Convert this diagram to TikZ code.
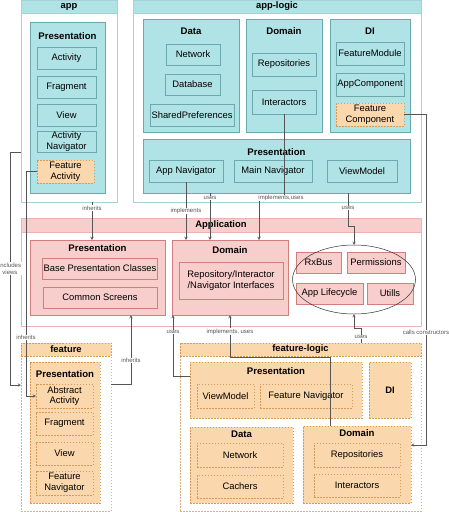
\documentclass[tikz,border=0pt]{standalone}
\usepackage{fontspec}
\setmainfont{Liberation Sans}
\usepackage{tikz}
\usepackage{xcolor}
\usetikzlibrary{positioning, arrows, shapes.geometric}
\definecolor{tealfill}{HTML}{B0E3E6}
\definecolor{tealedge}{HTML}{6AAAAE}
\definecolor{tealrim}{HTML}{A6D2D5}
\definecolor{pinkfill}{HTML}{F8CECC}
\definecolor{pinkedge}{HTML}{D17F7C}
\definecolor{pinkrim}{HTML}{EDB3B1}
\definecolor{orfill}{HTML}{FAD7AC}
\definecolor{oredge}{HTML}{D99A55}
\definecolor{linkgray}{HTML}{555555}

\begin{document}
\begin{tikzpicture}[x=1pt, y=-1pt,
  wh/.style 2 args={minimum width=#1, minimum height=#2},
  box/.style={draw, line width=0.6pt, inner sep=1pt, outer sep=0pt, align=center, font=\fontsize{9.4}{10.6}\selectfont},
  tbox/.style={box, fill=tealfill, draw=tealedge},
  pbox/.style={box, fill=pinkfill, draw=pinkedge},
  obox/.style={box, fill=orfill, draw=oredge, dash pattern=on 1.5pt off 1.5pt},
  trim/.style={box, fill=white, draw=tealrim},
  thead/.style={trim, fill=tealfill, font=\bfseries\fontsize{9.4}{10}\selectfont},
  prim/.style={box, fill=white, draw=pinkrim},
  phead/.style={prim, fill=pinkfill, font=\bfseries\fontsize{9.4}{10}\selectfont},
  orim/.style={box, fill=white, draw=oredge!75, dash pattern=on 1.5pt off 1.5pt},
  ohead/.style={obox, font=\bfseries\fontsize{9.4}{10}\selectfont},
  ring/.style={ellipse, draw=black!80, line width=0.5pt, inner sep=0pt, outer sep=0pt},
  title/.style={font=\bfseries\fontsize{9.6}{10}\selectfont, inner sep=0pt},
  lbl/.style={font=\fontsize{6}{7}\selectfont, fill=white, inner sep=0.6pt, align=center, text=linkgray},
  arr/.style={->, >=stealth, linkgray, line width=0.5pt}
]
\useasboundingbox (0,0) rectangle (449,512);

% app module
\node[trim, wh={96}{202}] (app) at (69,101) {};
\node[thead, wh={96}{13}] (appHead) at (69,6.5) {app};
\node[tbox, wh={75}{171}] (appPres) at (67.5,107.5) {};
\node[title] at ([yshift=-14.5]appPres.north) {Presentation};
\node[tbox, wh={59}{22}] (appAct) at (66.5,58) {Activity};
\node[tbox, wh={59}{22}] (appFrag) at (66.5,87) {Fragment};
\node[tbox, wh={59}{22}] (appView) at (66.5,115) {View};
\node[tbox, wh={59}{21}] (appNav) at (66.5,141.5) {Activity\\Navigator};
\node[obox, wh={57}{23}] (appFeat) at (65.5,171.5) {Feature\\Activity};

% app-logic module
\node[trim, wh={288}{202}] (logic) at (277,101) {};
\node[thead, wh={288}{13}] (logicHead) at (277,6.5) {app-logic};
\node[tbox, wh={96}{113}] (lData) at (191,75.5) {};
\node[title] at ([yshift=-12]lData.north) {Data};
\node[tbox, wh={54}{21}] (lNet) at (193,54.5) {Network};
\node[tbox, wh={55}{21}] (lDb) at (192.5,84.5) {Database};
\node[tbox, wh={84}{22}] (lPrefs) at (192,115) {SharedPreferences};
\node[tbox, wh={76}{113}] (lDom) at (284,75.5) {};
\node[title] at ([yshift=-12]lDom.north) {Domain};
\node[tbox, wh={64}{23}] (lRepo) at (284,64.5) {Repositories};
\node[tbox, wh={64}{24}] (lInt) at (284,102) {Interactors};
\node[tbox, wh={80}{113}] (lDi) at (370,75.5) {};
\node[title] at ([yshift=-12]lDi.north) {DI};
\node[tbox, wh={68}{23}] (lFMod) at (370,53.5) {FeatureModule};
\node[tbox, wh={68}{23}] (lAppComp) at (370,84.5) {AppComponent};
\node[obox, wh={68}{23}] (lFComp) at (370,114.5) {Feature\\Component};
\node[tbox, wh={267}{54}] (lPres) at (276.5,166) {};
\node[title] at ([yshift=-13]lPres.north) {Presentation};
\node[tbox, wh={74}{22}] (lAppNav) at (186,171) {App Navigator};
\node[tbox, wh={78}{22}] (lMainNav) at (273,171) {Main Navigator};
\node[tbox, wh={70}{22}] (lVm) at (362,171) {ViewModel};

% Application module
\node[prim, wh={400}{108}] (appl) at (221,272) {};
\node[phead, wh={400}{14}] (applHead) at (221,225) {Application};
\node[pbox, wh={135}{75}] (aPres) at (97.5,277.5) {};
\node[title] at ([yshift=-8]aPres.north) {Presentation};
\node[pbox, wh={114}{21}] (aBase) at (100,268.5) {Base Presentation Classes};
\node[pbox, wh={114}{21}] (aCommon) at (100,297.5) {Common Screens};
\node[pbox, wh={116}{75}] (aDom) at (230,277.5) {};
\node[title] at ([yshift=-10]aDom.north) {Domain};
\node[pbox, wh={104}{37}] (aIface) at (231,280.5) {Repository/Interactor\\/Navigator Interfaces};
\node[pbox, wh={45}{21}] (aRx) at (318.5,262.5) {RxBus};
\node[pbox, wh={58}{21}] (aPerm) at (376,262.5) {Permissions};
\node[pbox, wh={67}{21}] (aLife) at (329.5,293.5) {App Lifecycle};
\node[pbox, wh={46}{21}] (aUtil) at (390,293.5) {Utills};
\node[ring, wh={123}{69}] (aCore) at (354,279.5) {};

% feature module
\node[orim, wh={90}{168}] (feat) at (66,427) {};
\node[ohead, wh={90}{13}] (featHead) at (66,349.5) {feature};
\node[obox, wh={70}{141}] (fPres) at (65,432.5) {};
\node[title] at ([yshift=-12]fPres.north) {Presentation};
\node[obox, wh={57}{24}] (fAbs) at (64.5,396) {Abstract\\Activity};
\node[obox, wh={57}{23}] (fFrag) at (64.5,423.5) {Fragment};
\node[obox, wh={57}{23}] (fView) at (64.5,453.5) {View};
\node[obox, wh={57}{24}] (fNav) at (64.5,483) {Feature\\Navigator};

% feature-logic module
\node[orim, wh={241}{168}] (flog) at (300.5,427) {};
\node[ohead, wh={241}{13}] (flogHead) at (300.5,349.5) {feature-logic};
\node[obox, wh={172}{56}] (flPres) at (276,390) {};
\node[title] at ([yshift=-9]flPres.north) {Presentation};
\node[obox, wh={57}{24}] (flVm) at (225.5,396) {ViewModel};
\node[obox, wh={92}{24}] (flNav) at (306,396) {Feature Navigator};
\node[ohead, wh={42}{56}] (flDi) at (390,390) {DI};
\node[obox, wh={103}{76}] (flData) at (241.5,465) {};
\node[title] at ([yshift=-7]flData.north) {Data};
\node[obox, wh={86}{24}] (flNet) at (240,455) {Network};
\node[obox, wh={86}{23}] (flCache) at (240,486.5) {Cachers};
\node[obox, wh={108}{77}] (flDom) at (357,464.5) {};
\node[title] at ([yshift=-7]flDom.north) {Domain};
\node[obox, wh={86}{24}] (flRepo) at (357,455) {Repositories};
\node[obox, wh={86}{23}] (flInt) at (357,485.5) {Interactors};

% links
\draw[arr] ([xshift=23]app.south) -- node[lbl, pos=0.16] {inherits} ([xshift=-5.5]aPres.north);
\draw[arr] (lAppNav.south) -- node[lbl, pos=0.5] {implements} (lAppNav.south |- aDom.north);
\draw[arr] ([xshift=-66.5]lPres.south) -- node[lbl, pos=0.11] {uses} ([xshift=-20]aDom.north);
\draw[arr] (lInt.south) -- ++(0,84) node[lbl, xshift=-3] {implements,uses} -| ([xshift=29]aDom.north);
\draw[arr] ([xshift=71.5]lPres.south) -- node[lbl, pos=0.45] {uses} ++(0,33) -| (aCore.north);
\draw[arr] ([xshift=60.5]flogHead.north) -- node[lbl, pos=0.4] {uses} ++(0,-15) -| (aCore.south);
\draw[arr] (lFComp.east) -- ++(22,0) |- node[lbl, pos=0.33] {calls constructors} ([yshift=19.5]flDom.east);
\draw[arr] ([yshift=-51]app.west) -- ++(-11,0) |- node[lbl, pos=0.25] {includes\\views} ([yshift=42]feat.west);
\draw[arr] (appFeat.west) -- ++(-11,0) |- node[lbl, pos=0.37] {inherits} (fAbs.west);
\draw[arr] ([yshift=43]feat.east) -| node[lbl, pos=0.67] {inherits} ([xshift=33.5]aPres.south);
\draw[arr] ([yshift=14]flPres.west) -| node[lbl, pos=0.86] {uses} ([xshift=-57]aDom.south);
\draw[arr] ([xshift=-27]flDom.north) -- ++(0,-69) -| node[lbl, pos=0.8] {implements, uses} (aDom.south);

\end{tikzpicture}
\end{document}
